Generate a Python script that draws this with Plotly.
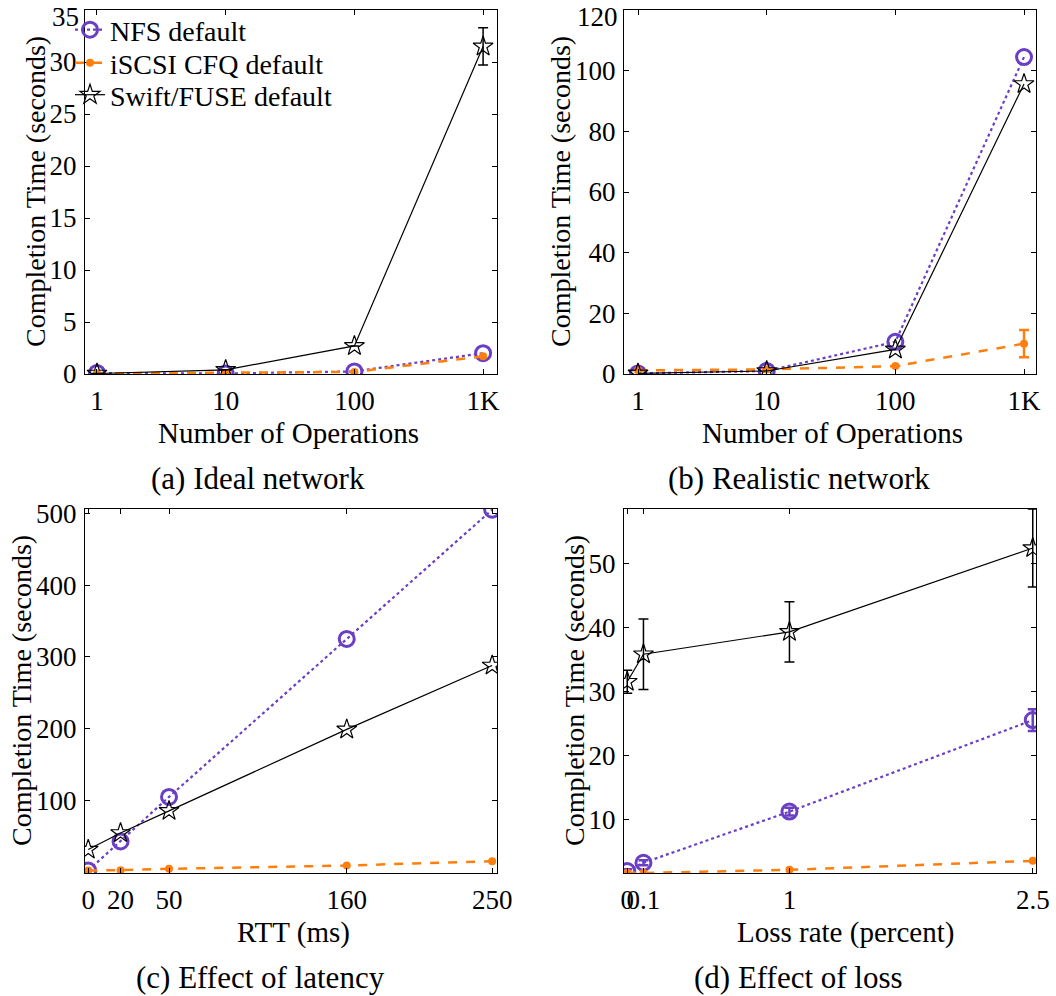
import plotly.graph_objects as go

# ---- data -------------------------------------------------------------
ops = [1, 10, 100, 1000]
ops_labels = ["1", "10", "100", "1K"]

ideal_nfs = [0.1, 0.05, 0.25, 2.0]
ideal_iscsi = [0.05, 0.1, 0.2, 1.7]
ideal_swift = [0.05, 0.4, 2.7, 31.5]
ideal_swift_err = [0.0, 0.0, 0.0, 1.8]
ideal_yticks = [0, 5, 10, 15, 20, 25, 30, 35]

real_nfs = [0.2, 1.0, 10.6, 104.5]
real_iscsi = [1.2, 1.5, 2.6, 10.0]
real_iscsi_err = [0.0, 0.0, 0.0, 4.5]
real_swift = [0.2, 1.0, 8.1, 95.6]
real_yticks = [0, 20, 40, 60, 80, 100, 120]

rtt = [0, 20, 50, 160, 250]
lat_nfs = [2.5, 43, 105, 325, 505]
lat_iscsi = [2.5, 3.0, 4.8, 9.4, 15.5]
lat_swift = [31.6, 54.7, 85.6, 199, 288]
lat_yticks = [100, 200, 300, 400, 500]

loss = [0, 0.1, 1, 2.5]
loss_labels = ["0", "0.1", "1", "2.5"]
loss_nfs = [1.9, 3.2, 11.2, 25.5]
loss_nfs_err = [0.3, 0.4, 0.6, 1.7]
loss_iscsi = [1.65, 1.6, 2.1, 3.5]
loss_swift = [31.5, 35.8, 39.3, 52.4]
loss_swift_err = [1.8, 5.5, 4.7, 6.1]
loss_yticks = [10, 20, 30, 40, 50]

# ---- styling ----------------------------------------------------------
W, H = 1056, 996
FONT = "Liberation Serif"
PURPLE = "#6a3fc4"
ORANGE = "#ff7f0e"
BLACK = "#000000"


def px(x):
    return x / W


def py(y):
    return 1 - y / H


nfs_style = dict(mode="lines+markers", name="NFS default", legend="legend",
                 line=dict(color=PURPLE, width=2.2, dash="dot"),
                 marker=dict(symbol="circle-open", size=15, color=PURPLE,
                             line=dict(width=3, color=PURPLE)))
iscsi_style = dict(mode="lines+markers", name="iSCSI CFQ default", legend="legend2",
                   line=dict(color=ORANGE, width=2.5, dash="dash"),
                   marker=dict(symbol="circle", size=8, color=ORANGE))
swift_style = dict(mode="lines+markers", name="Swift/FUSE default", legend="legend3",
                   line=dict(color=BLACK, width=1.2),
                   marker=dict(symbol="star-open", size=15, color=BLACK,
                               line=dict(width=1.2, color=BLACK)))


def err(vals, color, thick=1.5):
    return dict(type="data", array=vals, visible=True, color=color,
                thickness=thick, width=5)


fig = go.Figure()

# (a) ideal network
fig.add_trace(go.Scatter(x=ops, y=ideal_nfs, xaxis="x", yaxis="y", **nfs_style))
fig.add_trace(go.Scatter(x=ops, y=ideal_iscsi, xaxis="x", yaxis="y", **iscsi_style))
fig.add_trace(go.Scatter(x=ops, y=ideal_swift, xaxis="x", yaxis="y",
                         error_y=err(ideal_swift_err, BLACK), **swift_style))

# (b) realistic network
fig.add_trace(go.Scatter(x=ops, y=real_nfs, xaxis="x2", yaxis="y2", showlegend=False, **nfs_style))
fig.add_trace(go.Scatter(x=ops, y=real_iscsi, xaxis="x2", yaxis="y2", showlegend=False,
                         error_y=err(real_iscsi_err, ORANGE, 2.5), **iscsi_style))
fig.add_trace(go.Scatter(x=ops, y=real_swift, xaxis="x2", yaxis="y2", showlegend=False, **swift_style))

# (c) latency
fig.add_trace(go.Scatter(x=rtt, y=lat_nfs, xaxis="x3", yaxis="y3", showlegend=False, **nfs_style))
fig.add_trace(go.Scatter(x=rtt, y=lat_iscsi, xaxis="x3", yaxis="y3", showlegend=False, **iscsi_style))
fig.add_trace(go.Scatter(x=rtt, y=lat_swift, xaxis="x3", yaxis="y3", showlegend=False, **swift_style))

# (d) loss
fig.add_trace(go.Scatter(x=loss, y=loss_nfs, xaxis="x4", yaxis="y4", showlegend=False,
                         error_y=err(loss_nfs_err, PURPLE, 2.5), **nfs_style))
fig.add_trace(go.Scatter(x=loss, y=loss_iscsi, xaxis="x4", yaxis="y4", showlegend=False, **iscsi_style))
fig.add_trace(go.Scatter(x=loss, y=loss_swift, xaxis="x4", yaxis="y4", showlegend=False,
                         error_y=err(loss_swift_err, BLACK), **swift_style))

TICK_SIZE = 27
tickfont = dict(family=FONT, size=TICK_SIZE, color="black")
common = dict(showline=True, linecolor="black", linewidth=1.2, mirror="allticks",
              ticks="inside", ticklen=5, tickwidth=1, tickcolor="black",
              showgrid=False, zeroline=False, tickfont=tickfont, tickangle=0,
              automargin=False)
xstand = 2
ystand = 2


def ylabels(vals, hide_top=False):
    # the topmost label is placed separately, nudged below the frame edge
    txt = [str(v) for v in vals]
    if hide_top:
        txt[-1] = ""
    return txt


top = [py(374), py(10)]
bot = [py(873), py(509)]
left = [px(85), px(497)]
right = [px(624), px(1036)]

legend_common = dict(xanchor="left", yanchor="top", bgcolor="rgba(0,0,0,0)",
                     font=dict(family=FONT, size=28), itemwidth=30)

fig.update_layout(
    width=W, height=H, autosize=False, margin=dict(l=0, r=0, t=0, b=0),
    plot_bgcolor="white", paper_bgcolor="white",
    font=dict(family=FONT, size=26, color="black"),
    xaxis=dict(domain=left, anchor="y", type="log", range=[-0.093, 3.108],
               tickvals=ops, ticktext=ops_labels, ticklabelstandoff=xstand, **common),
    yaxis=dict(domain=top, anchor="x", range=[0, 35], tickvals=ideal_yticks,
               ticktext=ylabels(ideal_yticks, True), ticklabelstandoff=ystand, **common),
    xaxis2=dict(domain=right, anchor="y2", type="log", range=[-0.109, 3.093],
                tickvals=ops, ticktext=ops_labels, ticklabelstandoff=xstand, **common),
    yaxis2=dict(domain=top, anchor="x2", range=[0, 120], tickvals=real_yticks,
                ticktext=ylabels(real_yticks, True), ticklabelstandoff=ystand, **common),
    xaxis3=dict(domain=left, anchor="y3", range=[-2, 253], tickvals=rtt,
                ticklabelstandoff=xstand, **common),
    yaxis3=dict(domain=bot, anchor="x3", range=[-1, 506], tickvals=lat_yticks,
                ticktext=ylabels(lat_yticks), ticklabelstandoff=ystand, **common),
    xaxis4=dict(domain=right, anchor="y4", range=[-0.02, 2.52], tickvals=loss,
                ticktext=loss_labels, ticklabelstandoff=xstand, **common),
    yaxis4=dict(domain=bot, anchor="x4", range=[1.6, 58.5], tickvals=loss_yticks,
                ticktext=ylabels(loss_yticks), ticklabelstandoff=ystand, **common),
    legend=dict(x=px(70), y=py(5), **legend_common),
    legend2=dict(x=px(70), y=py(38), **legend_common),
    legend3=dict(x=px(70), y=py(70), **legend_common),
)

ann = []
ytitle = "Completion Time (seconds)"
for x, y in [(36, 192), (561, 192), (21, 691), (574, 691)]:
    ann.append(dict(text=ytitle, x=px(x), y=py(y), textangle=-90, size=28))
ann += [
    dict(text="Number of Operations", x=px(288), y=py(433), size=29),
    dict(text="Number of Operations", x=px(832), y=py(433), size=29),
    dict(text="RTT (ms)", x=px(293), y=py(932), size=29),
    dict(text="Loss rate (percent)", x=px(845), y=py(932), size=29),
    dict(text="(a) Ideal network", x=px(258), y=py(478), size=31),
    dict(text="(b) Realistic network", x=px(799), y=py(478), size=31),
    dict(text="(c) Effect of latency", x=px(260), y=py(977), size=31),
    dict(text="(d) Effect of loss", x=px(798), y=py(977), size=31),
]
for a in ann:
    size = a.pop("size")
    a.update(xref="paper", yref="paper", showarrow=False, xanchor="center", yanchor="middle",
             font=dict(family=FONT, size=size, color="black"))

# topmost y tick labels of the upper panels
for xref, yref, vals in [("x domain", "y", ideal_yticks), ("x2 domain", "y2", real_yticks)]:
    ann.append(dict(text=str(vals[-1]), xref=xref, yref=yref, x=0, y=vals[-1],
                    xanchor="right", yanchor="middle", xshift=-4, yshift=-7,
                    showarrow=False, font=tickfont))
fig.update_layout(annotations=ann)

fig.write_html("out.html")
